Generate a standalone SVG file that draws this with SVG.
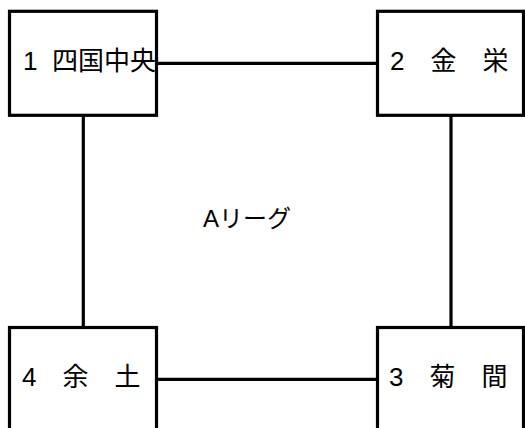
<svg xmlns="http://www.w3.org/2000/svg" width="525" height="428" viewBox="0 0 525 428">
<style>
.box{fill:#fff;stroke:#000;stroke-width:3.2}
.edge{stroke:#000;stroke-width:3.2;fill:none}
.lbl{font-family:"Liberation Sans","Noto Sans CJK JP",sans-serif;font-size:26px;fill:#000}
.title{font-family:"Liberation Sans","Noto Sans CJK JP",sans-serif;font-size:24px;fill:#000}
</style>
<rect width="525" height="428" fill="#fff"/>
<g id="connectors">
<line class="edge" x1="156.5" y1="63.3" x2="377.5" y2="63.3"/>
<line class="edge" x1="83.3" y1="115.5" x2="83.3" y2="327.5"/>
<line class="edge" x1="451" y1="115.5" x2="451" y2="327.5"/>
<line class="edge" x1="156.5" y1="379.3" x2="377.5" y2="379.3"/>
</g>
<g id="node1">
<rect class="box" x="9.5" y="11.3" width="147" height="104"/>
<text class="lbl" x="23" y="70" xml:space="preserve">1  四国中央</text>
</g>
<g id="node2">
<rect class="box" x="377.5" y="11.3" width="146" height="104"/>
<text class="lbl" x="390" y="70">2　金　栄</text>
</g>
<g id="node4">
<rect class="box" x="9.5" y="327.5" width="147" height="110"/>
<text class="lbl" x="22" y="386">4　余　土</text>
</g>
<g id="node3">
<rect class="box" x="377.5" y="327.5" width="146" height="110"/>
<text class="lbl" x="389" y="386">3　菊　間</text>
</g>
<g id="label">
<text class="title" x="203" y="227">Aリーグ</text>
</g>
</svg>
